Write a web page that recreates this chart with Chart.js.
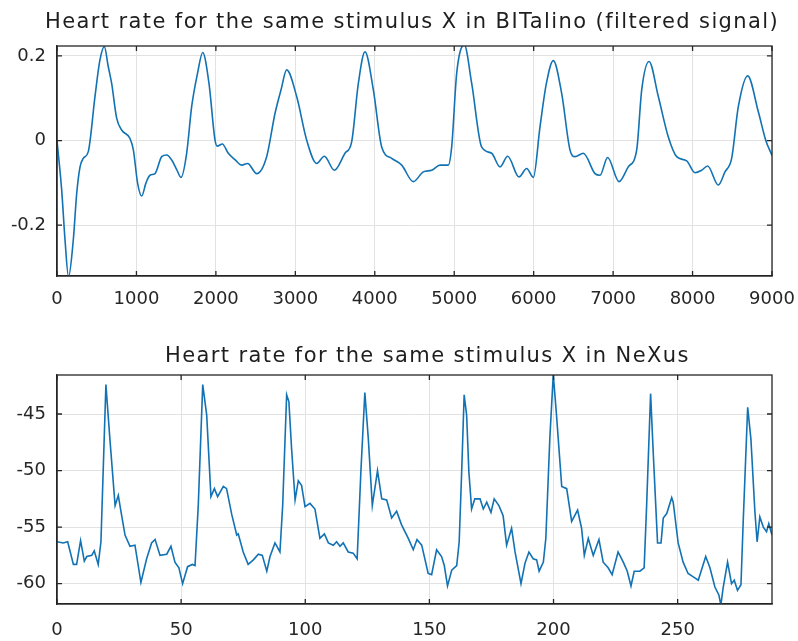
<!DOCTYPE html>
<html><head><meta charset="utf-8">
<script src="https://cdn.jsdelivr.net/npm/chart.js@4"></script>
<style>
html,body{margin:0;padding:0;background:#fff;}
#wrap{position:relative;width:798px;height:641px;overflow:hidden;background:#fff;}
.box{position:absolute;left:0;width:798px;}
.title{position:absolute;font-family:"DejaVu Sans";font-size:21px;line-height:24px;letter-spacing:1.4px;color:#1e1e1e;white-space:nowrap;}
</style></head><body>
<div id="wrap">
<div class="box" style="top:0;height:320px"><canvas id="c1"></canvas></div>
<div class="box" style="top:320px;height:321px"><canvas id="c2"></canvas></div>
<div class="title" style="left:45px;top:9px">Heart rate for the same stimulus X in BITalino (filtered signal)</div>
<div class="title" style="left:165px;top:343px">Heart rate for the same stimulus X in NeXus</div>
</div>
<script>
// ---- Top chart data (BITalino, filtered) ----
const bitX = [0,59,101,145,205,248,290,331,394,478,540,596,645,688,751,814,919,961,1015,1066,1120,1171,1234,1318,1381,1444,1510,1561,1632,1695,1770,1834,1913,1989,2018,2081,2156,2240,2325,2400,2513,2639,2744,2820,2891,3017,3143,3269,3365,3491,3625,3709,3793,3877,3982,4087,4213,4339,4485,4611,4716,4821,4925,4968,5031,5127,5220,5345,5471,5576,5673,5815,5912,5996,6080,6160,6247,6352,6457,6520,6625,6772,6835,6931,7074,7191,7297,7360,7452,7569,7694,7800,7926,8031,8115,8190,8324,8408,8492,8576,8694,8828,8921,9000];
const bitY = [0,-0.117,-0.235,-0.322,-0.235,-0.125,-0.062,-0.042,-0.026,0.104,0.19,0.222,0.175,0.135,0.053,0.025,0.005,-0.022,-0.101,-0.131,-0.10,-0.082,-0.078,-0.038,-0.034,-0.046,-0.07,-0.087,-0.030,0.080,0.16,0.208,0.135,0.001,-0.013,-0.008,-0.030,-0.045,-0.058,-0.054,-0.078,-0.038,0.064,0.12,0.167,0.104,0.001,-0.054,-0.037,-0.070,-0.030,-0.003,0.135,0.210,0.120,-0.015,-0.042,-0.058,-0.097,-0.074,-0.070,-0.058,-0.058,-0.015,0.159,0.226,0.135,-0.015,-0.030,-0.062,-0.037,-0.086,-0.066,-0.087,0.033,0.135,0.189,0.112,-0.022,-0.038,-0.030,-0.078,-0.082,-0.040,-0.097,-0.062,-0.022,0.120,0.187,0.104,0.009,-0.038,-0.048,-0.076,-0.070,-0.060,-0.105,-0.074,-0.042,0.080,0.153,0.068,0.001,-0.035];
const bitXTicks = [0,1000,2000,3000,4000,5000,6000,7000,8000,9000];
const bitYTicks = [-0.2,0,0.2];

// ---- Bottom chart data (NeXus) ----
const nexX = [0,2.5,4.3,6.6,7.9,9.5,11,12,14,15,16.6,17.7,19.7,21.3,23.4,24.7,25.6,27.4,29.4,31.4,33.8,36.1,38.1,39.5,41.5,44.2,45.9,47.5,49.1,50.6,52.6,54.5,55.6,56.9,58.7,60.3,62,63.4,64.7,67,68.3,70.4,72.4,73,75,77,79.1,81.1,82.7,84.5,85.8,87.8,89.8,90.9,92.5,93.4,94.5,95.9,97.2,98.5,99.9,101.9,103.9,105.9,107.7,109.3,111.3,112.6,114,115.3,117.3,119.3,120.9,122.4,124,125.4,127,129.1,130.8,132.8,134.8,136.8,138.8,141.5,143.5,145,146.9,149.5,150.9,152.9,154.9,156,157.3,159,161,162,163,164,165,165.9,167,168.3,170.4,171.7,173.1,174.8,176.1,178,179.7,181.1,183.1,184.5,186.9,188.5,190.1,191.8,193.2,194.2,195.9,196.9,198.5,199.9,201.2,203.3,205.3,207.3,209.7,211.3,212.4,214,216,218.3,220,222,223.6,226,228.1,229.7,231.2,232.5,234.8,236.5,237.5,239.1,240.2,241.9,243.3,244.2,245.6,247.6,248.2,250.2,252.2,254.2,256.3,258.3,261.3,263,265,266.6,267.4,268.3,270.1,271.7,272.8,274.1,275.5,276.4,278.2,279.5,281.1,282,283.1,284.5,285.8,286.7,288];
const nexY = [-56.3,-56.4,-56.3,-58.3,-58.3,-56.2,-58.0,-57.6,-57.5,-57.1,-58.3,-56.3,-42.4,-47.2,-53.1,-52.2,-53.4,-55.7,-56.7,-56.6,-59.9,-57.8,-56.4,-56.1,-57.5,-57.4,-56.7,-58.1,-58.6,-60.0,-58.5,-58.3,-58.4,-53.1,-42.4,-45.1,-52.3,-51.6,-52.3,-51.4,-51.6,-53.9,-55.7,-55.6,-57.2,-58.3,-57.9,-57.4,-57.5,-58.9,-57.6,-56.4,-57.2,-53.1,-43.3,-43.9,-48.1,-52.6,-50.9,-51.3,-53.2,-52.9,-53.4,-56.0,-55.6,-56.4,-56.6,-56.3,-56.7,-56.4,-57.2,-57.3,-57.8,-50.1,-43.1,-47.2,-53.1,-50.0,-52.5,-52.6,-54.2,-53.6,-54.8,-56.0,-57.0,-56.1,-56.6,-59.1,-59.2,-57.0,-57.6,-58.4,-60.2,-58.8,-58.4,-56.3,-50.1,-43.3,-45.1,-50.1,-53.4,-52.5,-52.5,-53.4,-52.8,-53.7,-52.5,-53.1,-54.0,-56.6,-55.1,-57.2,-60.0,-58.2,-57.2,-57.8,-57.9,-58.9,-58.1,-56.0,-47.2,-41.5,-45.1,-51.4,-51.6,-54.5,-53.5,-55.1,-57.5,-56.0,-57.5,-56.1,-58.1,-58.6,-59.2,-57.2,-58.1,-58.9,-60.2,-58.9,-58.9,-58.6,-53.1,-43.2,-48.6,-56.4,-56.4,-54.2,-53.8,-52.4,-52.8,-56.4,-58.1,-59.1,-59.4,-59.7,-57.6,-58.6,-60.3,-61.0,-61.9,-60.4,-58.1,-60.0,-59.7,-60.6,-60.1,-54.5,-44.4,-47.2,-53.6,-56.3,-54.1,-55.0,-55.4,-54.7,-55.7];
const nexXTicks = [0,50,100,150,200,250];
const nexYTicks = [-60,-55,-50,-45];

const LINE = '#1272b3';
const AXIS = '#262626';
const GRID = '#e2e2e2';
const FONT = {family: 'DejaVu Sans', size: 18};

// Box around plot + inward tick marks on all four sides (positions from scales)
const boxPlugin = {
  id: 'matlabBox',
  afterDatasetsDraw(chart) {
    const {ctx, chartArea: a, scales: {x, y}} = chart;
    ctx.save();
    ctx.strokeStyle = AXIS;
    ctx.lineWidth = 1.3;
    ctx.strokeRect(a.left, a.top, a.right - a.left, a.bottom - a.top);
    const L = 5;
    ctx.beginPath();
    x.ticks.forEach(t => {
      const px = x.getPixelForValue(t.value);
      ctx.moveTo(px, a.bottom); ctx.lineTo(px, a.bottom - L);
      ctx.moveTo(px, a.top); ctx.lineTo(px, a.top + L);
    });
    y.ticks.forEach(t => {
      const py = y.getPixelForValue(t.value);
      ctx.moveTo(a.left, py); ctx.lineTo(a.left + L, py);
      ctx.moveTo(a.right, py); ctx.lineTo(a.right - L, py);
    });
    ctx.stroke();
    ctx.restore();
  }
};

function makeChart(id, xs, ys, xTicks, yTicks, xr, yr, cfg) {
  return new Chart(document.getElementById(id), {
    type: 'line',
    data: {
      datasets: [{
        data: xs.map((v, i) => ({x: v, y: ys[i]})),
        borderColor: LINE,
        borderWidth: 1.6,
        pointRadius: 0,
        fill: false,
        tension: cfg.tension,
        cubicInterpolationMode: cfg.mode
      }]
    },
    options: {
      responsive: true,
      maintainAspectRatio: false,
      animation: false,
      events: [],
      layout: {padding: {top: cfg.padTop, right: 26, left: 0, bottom: 0}},
      plugins: {legend: {display: false}, title: {display: false}, tooltip: {enabled: false}},
      scales: {
        x: {
          type: 'linear', min: xr[0], max: xr[1],
          afterBuildTicks: s => { s.ticks = xTicks.map(v => ({value: v})); },
          afterFit: s => { s.height = cfg.xH; s.paddingLeft = 0; s.paddingRight = 0; },
          grid: {color: GRID, lineWidth: 1, drawTicks: false},
          border: {display: true, color: AXIS, width: 1.3},
          ticks: {font: FONT, color: AXIS, padding: cfg.xPad, maxRotation: 0, autoSkip: false,
                  callback: v => String(v)}
        },
        y: {
          type: 'linear', min: yr[0], max: yr[1],
          afterBuildTicks: s => { s.ticks = yTicks.map(v => ({value: v})); },
          afterFit: s => { s.width = 57; s.paddingTop = 0; s.paddingBottom = 0; },
          grid: {color: GRID, lineWidth: 1, drawTicks: false},
          border: {display: true, color: AXIS, width: 1.3},
          ticks: {font: FONT, color: AXIS, padding: 11, autoSkip: false,
                  callback: v => String(v)}
        }
      }
    },
    plugins: [boxPlugin]
  });
}

makeChart('c1', bitX, bitY, bitXTicks, bitYTicks, [0, 9000], [-0.32, 0.2235],
  {padTop: 46, xH: 44, xPad: 13, tension: 0.4, mode: 'monotone'});
makeChart('c2', nexX, nexY, nexXTicks, nexYTicks, [0, 288], [-61.8, -41.55],
  {padTop: 55, xH: 37, xPad: 16, tension: 0, mode: 'default'});
</script>
</body></html>
